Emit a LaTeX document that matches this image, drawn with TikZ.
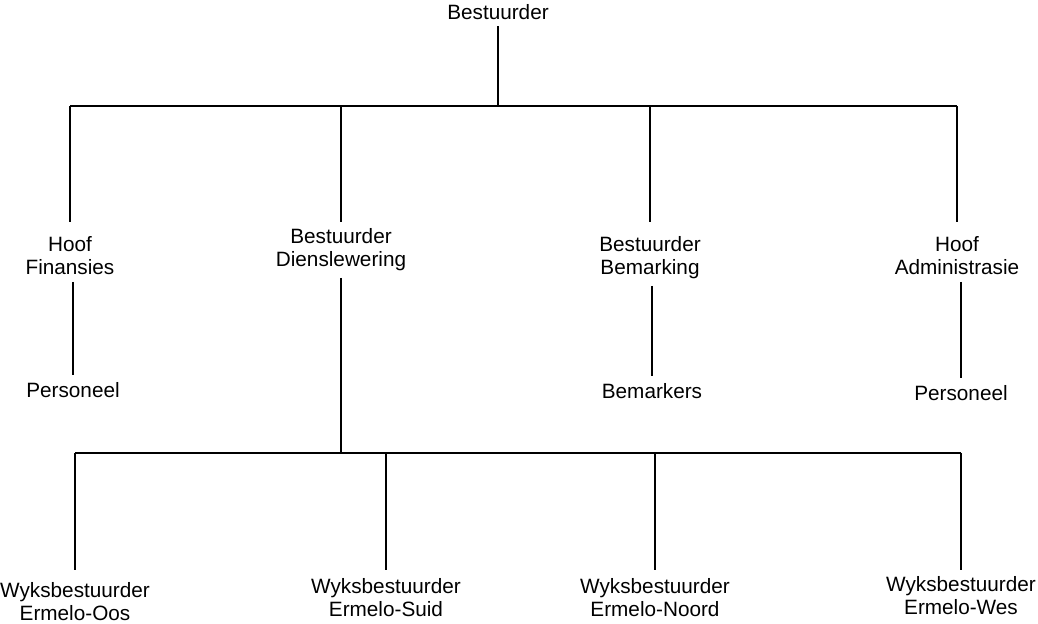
\documentclass[tikz,border=0pt]{standalone}
\usepackage{fontspec}
\setmainfont{Liberation Sans}
\usetikzlibrary{positioning}

\begin{document}
\begin{tikzpicture}[x=0.02cm,y=-0.02cm,every node/.style={font=\fontsize{11.8}{13.4}\selectfont,align=center,inner sep=0pt,outer sep=4pt,anchor=north},line/.style={line width=1.5pt}]
    \useasboundingbox (0,0) rectangle (1038,624);

    \node (b_0) at (498,-3) {Bestuurder};
    \node (h_1) at (70,229) {Hoof\\Finansies};
    \node (b_1) at (341,221) {Bestuurder\\Dienslewering};
    \node (b_2) at (650,229) {Bestuurder\\Bemarking};
    \node (h_2) at (957,229) {Hoof\\Administrasie};

    \node (p_1) at (73,375) {Personeel};
    \node (m_1) at (652,376) {Bemarkers};
    \node (p_2) at (961,378) {Personeel};

    \node (w_1) at (75,575) {Wyksbestuurder\\Ermelo-Oos};
    \node (w_2) at (386,571) {Wyksbestuurder\\Ermelo-Suid};
    \node (w_3) at (655,571) {Wyksbestuurder\\Ermelo-Noord};
    \node (w_4) at (961,569) {Wyksbestuurder\\Ermelo-Wes};

    \coordinate (bus1) at (498,106);
    \coordinate (lvl1) at (0,222);
    \coordinate (bus2) at (343,453);
    \coordinate (lvl2) at (0,570);

    % top level
    \path[line] (b_0) edge (bus1);
    \draw[line] (h_1.north |- bus1) -- (h_2.north |- bus1);
    \foreach \n in {h_1,b_1,b_2,h_2}
        \draw[line] (\n.north |- bus1) -- (\n.north |- lvl1);

    % staff
    \path[line] (p_1.north |- h_1.south) edge (p_1.north);
    \path[line] (m_1.north |- b_2.south) edge (m_1.north);
    \path[line] (p_2.north |- h_2.south) edge (p_2.north);

    % wyke
    \path[line] (b_1.south) edge (b_1.south |- bus2);
    \draw[line] (w_1.north |- bus2) -- (w_4.north |- bus2);
    \foreach \n in {w_1,w_2,w_3,w_4}
        \draw[line] (\n.north |- bus2) -- (\n.north |- lvl2);

\end{tikzpicture}
\end{document}
